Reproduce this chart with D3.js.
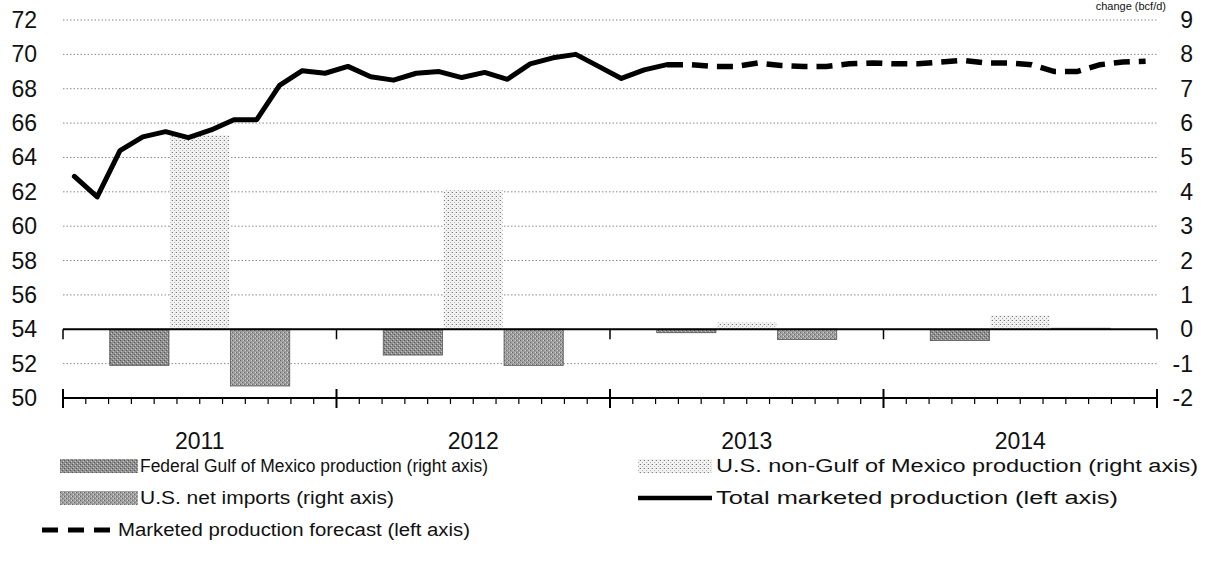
<!DOCTYPE html>
<html><head><meta charset="utf-8">
<script src="https://cdn.jsdelivr.net/npm/d3@7"></script>
<style>
html,body{margin:0;padding:0;background:#fff;}
svg{display:block;font-family:"Liberation Sans",Arial,sans-serif;}
</style></head>
<body><svg id="chart" width="1209" height="561"></svg>
<script>
// ---- data ----
const years = ["2011", "2012", "2013", "2014"];
const barSeries = ["federal", "nonGoM", "imports"];
const federalGoM = [-1.05, -0.75, -0.1, -0.33];
const nonGoM = [5.65, 4.05, 0.2, 0.4];
const netImports = [-1.65, -1.05, -0.3, 0.03];
// monthly, Jan 2011 .. Mar 2013
const totalMarketed = [62.9, 61.7, 64.4, 65.2, 65.5, 65.15, 65.6, 66.2, 66.2, 68.2, 69.05, 68.9,
  69.3, 68.7, 68.5, 68.9, 69.0, 68.65, 68.95, 68.55, 69.45, 69.8, 70.0, 69.3,
  68.6, 69.1, 69.4];
// monthly, Mar 2013 .. Dec 2014
const forecast = [69.4, 69.4, 69.3, 69.3, 69.5, 69.35, 69.3, 69.3, 69.45, 69.5,
  69.45, 69.45, 69.55, 69.65, 69.5, 69.5, 69.4, 69.0, 69.0, 69.4, 69.55, 69.6];
const forecastStart = 26;
const leftTicks = [50, 52, 54, 56, 58, 60, 62, 64, 66, 68, 70, 72];
const rightTicks = [-2, -1, 0, 1, 2, 3, 4, 5, 6, 7, 8, 9];
const legendLabels = {
  federal: "Federal Gulf of Mexico production (right axis)",
  nonGoM: "U.S. non-Gulf of Mexico production (right axis)",
  imports: "U.S. net imports (right axis)",
  total: "Total marketed production (left axis)",
  forecast: "Marketed production forecast (left axis)"
};

// ---- layout ----
const svg = d3.select("#chart");
const X0 = 63, X1 = 1157, YT = 20, YB = 398;
const nMonths = years.length * 12;
const xm = d3.scaleLinear().domain([0, nMonths]).range([X0, X1]);
const xYear = d3.scaleBand().domain(years).range([X0, X1]);
const xSeries = d3.scaleBand().domain(barSeries).range([-90, 90]).paddingInner(0.02);
const yL = d3.scaleLinear().domain([50, 72]).range([YB, YT]);
const yR = d3.scaleLinear().domain([-2, 9]).range([YB, YT]);

// patterns
const defs = svg.append("defs");
function pat(id, base, dots) {
  const p = defs.append("pattern").attr("id", id).attr("patternUnits", "userSpaceOnUse")
    .attr("width", 4).attr("height", 4);
  p.append("rect").attr("width", 4).attr("height", 4).attr("fill", base);
  dots.forEach(d => p.append("rect").attr("x", d[0]).attr("y", d[1]).attr("width", 1).attr("height", 1).attr("fill", d[2]));
}
pat("pFed", "#8e8e8e", [[0, 0, "#5a5a5a"], [2, 2, "#5a5a5a"], [1, 3, "#c8c8c8"], [3, 1, "#c8c8c8"]]);
pat("pImp", "#9e9e9e", [[0, 0, "#6a6a6a"], [2, 2, "#6a6a6a"], [1, 2, "#d0d0d0"], [3, 0, "#d0d0d0"]]);
pat("pNon", "#f2f2f2", [[0, 0, "#7a7a7a"], [2, 2, "#b0b0b0"], [3, 0, "#d4d4d4"]]);
const fills = { federal: "url(#pFed)", nonGoM: "url(#pNon)", imports: "url(#pImp)" };
const seriesVals = { federal: federalGoM, nonGoM: nonGoM, imports: netImports };

// gridlines
svg.append("g").selectAll("line").data(leftTicks.filter(t => t > 50)).join("line")
  .attr("x1", X0).attr("x2", X1).attr("y1", d => yL(d)).attr("y2", d => yL(d))
  .attr("stroke", "#8a8a8a").attr("stroke-width", 1).attr("stroke-dasharray", "1.5,2");

// bars
const barG = svg.append("g");
barSeries.forEach(s => {
  barG.append("g").selectAll("rect").data(years.map((y, i) => ({ y, v: seriesVals[s][i] }))).join("rect")
    .attr("x", d => xYear(d.y) + xYear.bandwidth() / 2 + xSeries(s))
    .attr("width", xSeries.bandwidth())
    .attr("y", d => Math.min(yR(0), yR(d.v)))
    .attr("height", d => Math.abs(yR(d.v) - yR(0)))
    .attr("fill", fills[s])
    .attr("stroke", s === "nonGoM" ? "none" : "#555").attr("stroke-width", 0.8);
});

// zero axis line with year ticks
svg.append("line").attr("x1", X0).attr("x2", X1).attr("y1", yR(0)).attr("y2", yR(0))
  .attr("stroke", "#000").attr("stroke-width", 2);
svg.append("g").selectAll("line").data(d3.range(years.length + 1)).join("line")
  .attr("x1", d => xm(d * 12)).attr("x2", d => xm(d * 12))
  .attr("y1", yR(0)).attr("y2", yR(0) + 10).attr("stroke", "#000").attr("stroke-width", 1.5);

// bottom axis
const gx = svg.append("g").attr("transform", `translate(0,${YB})`);
gx.append("line").attr("x1", X0).attr("x2", X1).attr("stroke", "#000").attr("stroke-width", 2);
gx.selectAll("line.minor").data(d3.range(nMonths + 1)).join("line").attr("class", "minor")
  .attr("x1", d => xm(d)).attr("x2", d => xm(d))
  .attr("y1", d => d % 12 === 0 ? -9 : 0).attr("y2", d => d % 12 === 0 ? 10 : 6)
  .attr("stroke", "#000").attr("stroke-width", d => d % 12 === 0 ? 2 : 1.2);
gx.selectAll("text").data(years).join("text")
  .attr("x", d => xYear(d) + xYear.bandwidth() / 2).attr("y", 51)
  .attr("text-anchor", "middle").attr("font-size", 23).attr("fill", "#111").text(d => d);

// left axis labels
svg.append("g").selectAll("text").data(leftTicks).join("text")
  .attr("x", 37).attr("y", d => yL(d) + 8).attr("text-anchor", "end")
  .attr("font-size", 23).attr("fill", "#111").text(d => d);
// right axis labels
svg.append("g").selectAll("text").data(rightTicks).join("text")
  .attr("x", 1193).attr("y", d => yR(d) + 8).attr("text-anchor", "end")
  .attr("font-size", 23).attr("fill", "#111").text(d => d);
// unit title at top right
svg.append("text").attr("x", 1166).attr("y", 10).attr("text-anchor", "end")
  .attr("font-size", 11).attr("fill", "#111").text("change (bcf/d)");

// lines
const line = d3.line().x(d => xm(d[0] + 0.5)).y(d => yL(d[1]));
svg.append("path").datum(totalMarketed.map((v, i) => [i, v]))
  .attr("d", line).attr("fill", "none").attr("stroke", "#000").attr("stroke-width", 5)
  .attr("stroke-linejoin", "round").attr("stroke-linecap", "round");
svg.append("path").datum(forecast.map((v, i) => [i + forecastStart, v]))
  .attr("d", line).attr("fill", "none").attr("stroke", "#000").attr("stroke-width", 5.5)
  .attr("stroke-dasharray", "16,9");

// legend
const lg = svg.append("g").attr("font-size", 18).attr("fill", "#111");
function sw(x, y, w, f) { lg.append("rect").attr("x", x).attr("y", y - 7).attr("width", w).attr("height", 14).attr("fill", f); }
function lt(x, y, len, t) {
  lg.append("text").attr("x", x).attr("y", y + 6).attr("textLength", len)
    .attr("lengthAdjust", "spacingAndGlyphs").text(t);
}
sw(60, 466, 78, fills.federal); lt(140, 466, 348, legendLabels.federal);
sw(638, 466, 74, fills.nonGoM); lt(716, 466, 482, legendLabels.nonGoM);
sw(60, 498, 78, fills.imports); lt(140, 498, 254, legendLabels.imports);
lg.append("line").attr("x1", 638).attr("x2", 712).attr("y1", 498).attr("y2", 498)
  .attr("stroke", "#000").attr("stroke-width", 4.5);
lt(716, 498, 402, legendLabels.total);
lg.append("line").attr("x1", 42).attr("x2", 110).attr("y1", 530).attr("y2", 530)
  .attr("stroke", "#000").attr("stroke-width", 5).attr("stroke-dasharray", "16,10");
lt(118, 530, 352, legendLabels.forecast);
</script>
</body></html>
